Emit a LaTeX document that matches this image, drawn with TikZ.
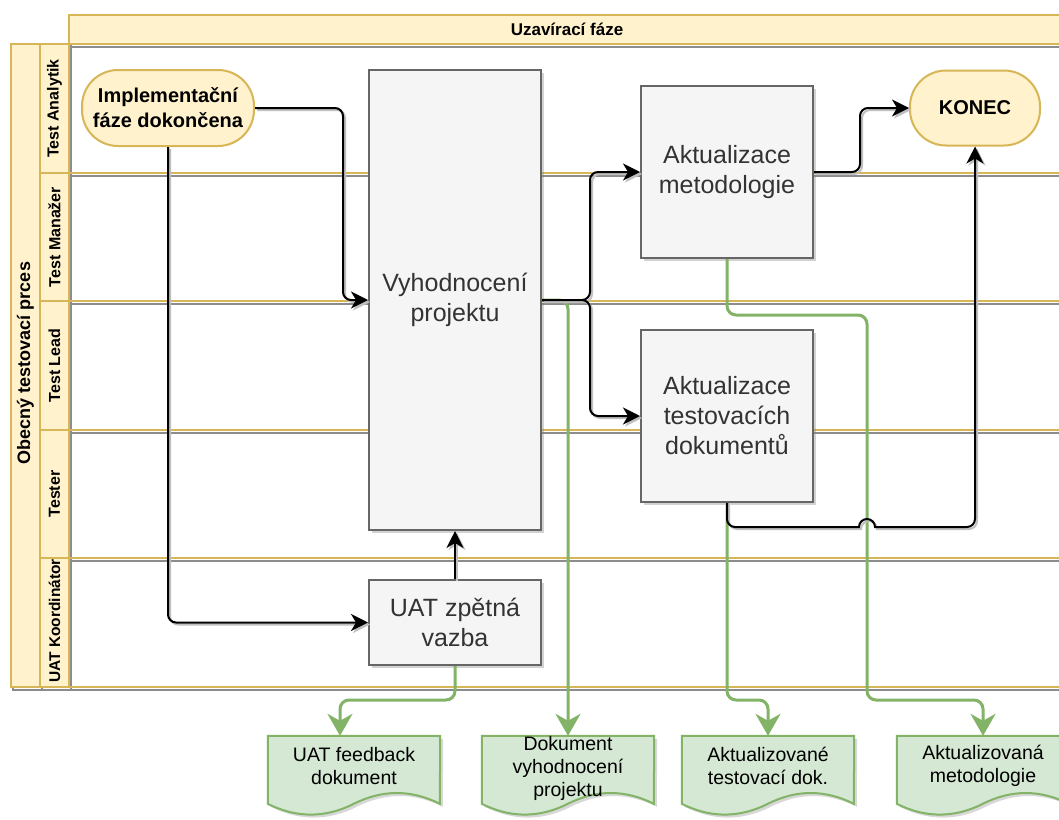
\documentclass[tikz,border=0pt]{standalone}
\usepackage{fontspec}
\setmainfont{Liberation Sans}
\usetikzlibrary{shadows,arrows.meta,calc}
\definecolor{yfill}{HTML}{FFF2CC}
\definecolor{ystroke}{HTML}{D6B656}
\definecolor{gfill}{HTML}{D5E8D4}
\definecolor{gstroke}{HTML}{82B366}
\definecolor{pfill}{HTML}{F5F5F5}
\definecolor{pstroke}{HTML}{666666}
\definecolor{ptext}{HTML}{333333}
\pgfdeclarelayer{bg}
\pgfsetlayers{bg,main}
\newcommand\docoutline[1]{%
  \draw[docline] (#1.north west) -- (#1.north east) -- ($(#1.north west)+(172,68)$)
    .. controls ($(#1.north west)+(143.33,53.6)$) and ($(#1.north west)+(114.67,53.6)$) .. ($(#1.north west)+(86,68)$)
    .. controls ($(#1.north west)+(57.33,82.4)$) and ($(#1.north west)+(28.67,82.4)$) .. ($(#1.north west)+(0,68)$)
    -- cycle;}
\begin{document}
\begin{tikzpicture}[x=1pt,y=-1pt,
  lane/.style={draw=ystroke, line width=2pt},
  laneshadow/.style={draw=black!45, line width=2pt},
  lanelabel/.style={rotate=90, font=\bfseries\fontsize{16}{19}\selectfont},
  poollabel/.style={rotate=90, font=\bfseries\fontsize{18}{21}\selectfont},
  headtext/.style={font=\bfseries\fontsize{17}{20}\selectfont},
  proc/.style={draw=pstroke, fill=pfill, line width=2pt, minimum width=172pt, inner sep=0pt,
    text=ptext, align=center, font=\fontsize{25}{30}\selectfont,
    drop shadow={shadow xshift=3pt, shadow yshift=-3pt, opacity=0.35}},
  term/.style={draw=ystroke, fill=yfill, line width=2pt, rounded corners=36pt, inner sep=0pt,
    align=center, font=\bfseries\fontsize{20}{25}\selectfont},
  docbox/.style={minimum width=172pt, minimum height=80pt, inner sep=0pt},
  doctext/.style={align=center, font=\fontsize{19.5}{23}\selectfont},
  docline/.style={draw=gstroke, fill=gfill, line width=2pt,
    drop shadow={shadow xshift=3pt, shadow yshift=-3pt, opacity=0.3}},
  flow/.style={draw=black, line width=2pt, rounded corners=8pt,
    -{Stealth[length=17pt,width=17pt,inset=5pt]},
    preaction={draw=black!25, line width=2pt, transform canvas={shift={(2pt,-2pt)}}}},
  gflow/.style={draw=gstroke, line width=3pt, rounded corners=9pt,
    -{Stealth[length=22pt,width=25pt,inset=7pt]}},
]
\useasboundingbox (0,0) rectangle (1059,819);
\begin{pgfonlayer}{bg}
  \fill[white] (0,0) rectangle (1059,819);
\end{pgfonlayer}

% lane stroke shadows
\begin{scope}[shift={(2,3)}]
  \draw[laneshadow] (69,15) rectangle (1090,44);
  \draw[laneshadow] (11,44) rectangle (40,687);
  \foreach \a/\b in {44/173,173/301,301/430,430/558,558/687}{
    \draw[laneshadow] (40,\a) rectangle (1090,\b);
    \draw[laneshadow] (69,\a) -- (69,\b);
  }
\end{scope}

% header and lanes
\draw[lane, fill=yfill] (69,15) rectangle (1090,44);
\node[headtext] (head) at (567,29.5) {Uzavírací fáze};
\draw[lane, fill=yfill] (11,44) rectangle (40,687);
\node[poollabel] (pool) at (25.5,363) {Obecný testovací prces};
\foreach \a/\b in {44/173,173/301,301/430,430/558,558/687}{
  \draw[lane, fill=yfill] (40,\a) rectangle (69,\b);
  \draw[lane] (69,\a) rectangle (1090,\b);
}
\node[lanelabel] (l1) at (54.5,108.5) {Test Analytik};
\node[lanelabel] (l2) at (54.5,237) {Test Manažer};
\node[lanelabel] (l3) at (54.5,365.5) {Test Lead};
\node[lanelabel] (l4) at (54.5,494) {Tester};
\node[lanelabel, font=\bfseries\fontsize{15.5}{19}\selectfont] (l5) at (54.5,621) {UAT Koordinátor};

% nodes
\node[term, minimum width=172pt, minimum height=76pt] (start) at (168,108) {Implementační\\fáze dokončena};
\node[term, minimum width=130pt, minimum height=75pt] (konec) at (975,108) {KONEC};
\node[proc, minimum height=460pt] (vyh) at (455,300) {Vyhodnocení\\projektu};
\node[proc, minimum height=85pt] (uat) at (455,622.5) {UAT zpětná\\vazba};
\node[proc, minimum height=172pt] (akm) at (727,172) {Aktualizace\\metodologie};
\node[proc, minimum height=172pt] (akt) at (727,416) {Aktualizace\\testovacích\\dokumentů};

% documents
\node[docbox, label={[doctext, yshift=10pt]center:{UAT feedback\\dokument}}] (d1) at (354,776) {};
\node[docbox, label={[doctext, yshift=8pt]center:{Dokument\\vyhodnocení\\projektu}}] (d2) at (568,776) {};
\node[docbox, label={[doctext, yshift=10pt]center:{Aktualizované\\testovací dok.}}] (d3) at (768,776) {};
\node[docbox, label={[doctext, yshift=10pt]center:{Aktualizovaná\\metodologie}}] (d4) at (983,776) {};
\begin{pgfonlayer}{bg}
  \docoutline{d1}
  \docoutline{d2}
  \docoutline{d3}
  \docoutline{d4}
\end{pgfonlayer}

% green document flows
\draw[gflow] (uat.south) -- (455,700) -- (340,700) -- ([xshift=-14pt]d1.north);
\draw[gflow] (vyh.east) -- (568,300) -- (d2.north);
\draw[gflow] (akt.south) -- (727,700) -- (768,700) -- (d3.north);
\draw[gflow] (akm.south) -- (727,315) -- (867,315) -- (867,700) -- (983,700) -- (d4.north);

% black flows
\draw[flow] (start.east) -- (343,108) |- (vyh.west);
\draw[flow] (start.south) |- (uat.west);
\draw[flow, rounded corners=0pt] (uat.north) -- (vyh.south);
\draw[flow] (vyh.east) -- (590,300) |- (akm.west);
\draw[flow] (vyh.east) -- (590,300) |- (akt.west);
\draw[flow] (akm.east) -- (860,172) |- (konec.west);
\draw[flow] (akt.south) -- (727,527) [sharp corners] -- (859,527)
  arc[start angle=180, end angle=0, radius=8pt] [rounded corners=8pt] -- (975,527) -- (konec.south);
\end{tikzpicture}
\end{document}
